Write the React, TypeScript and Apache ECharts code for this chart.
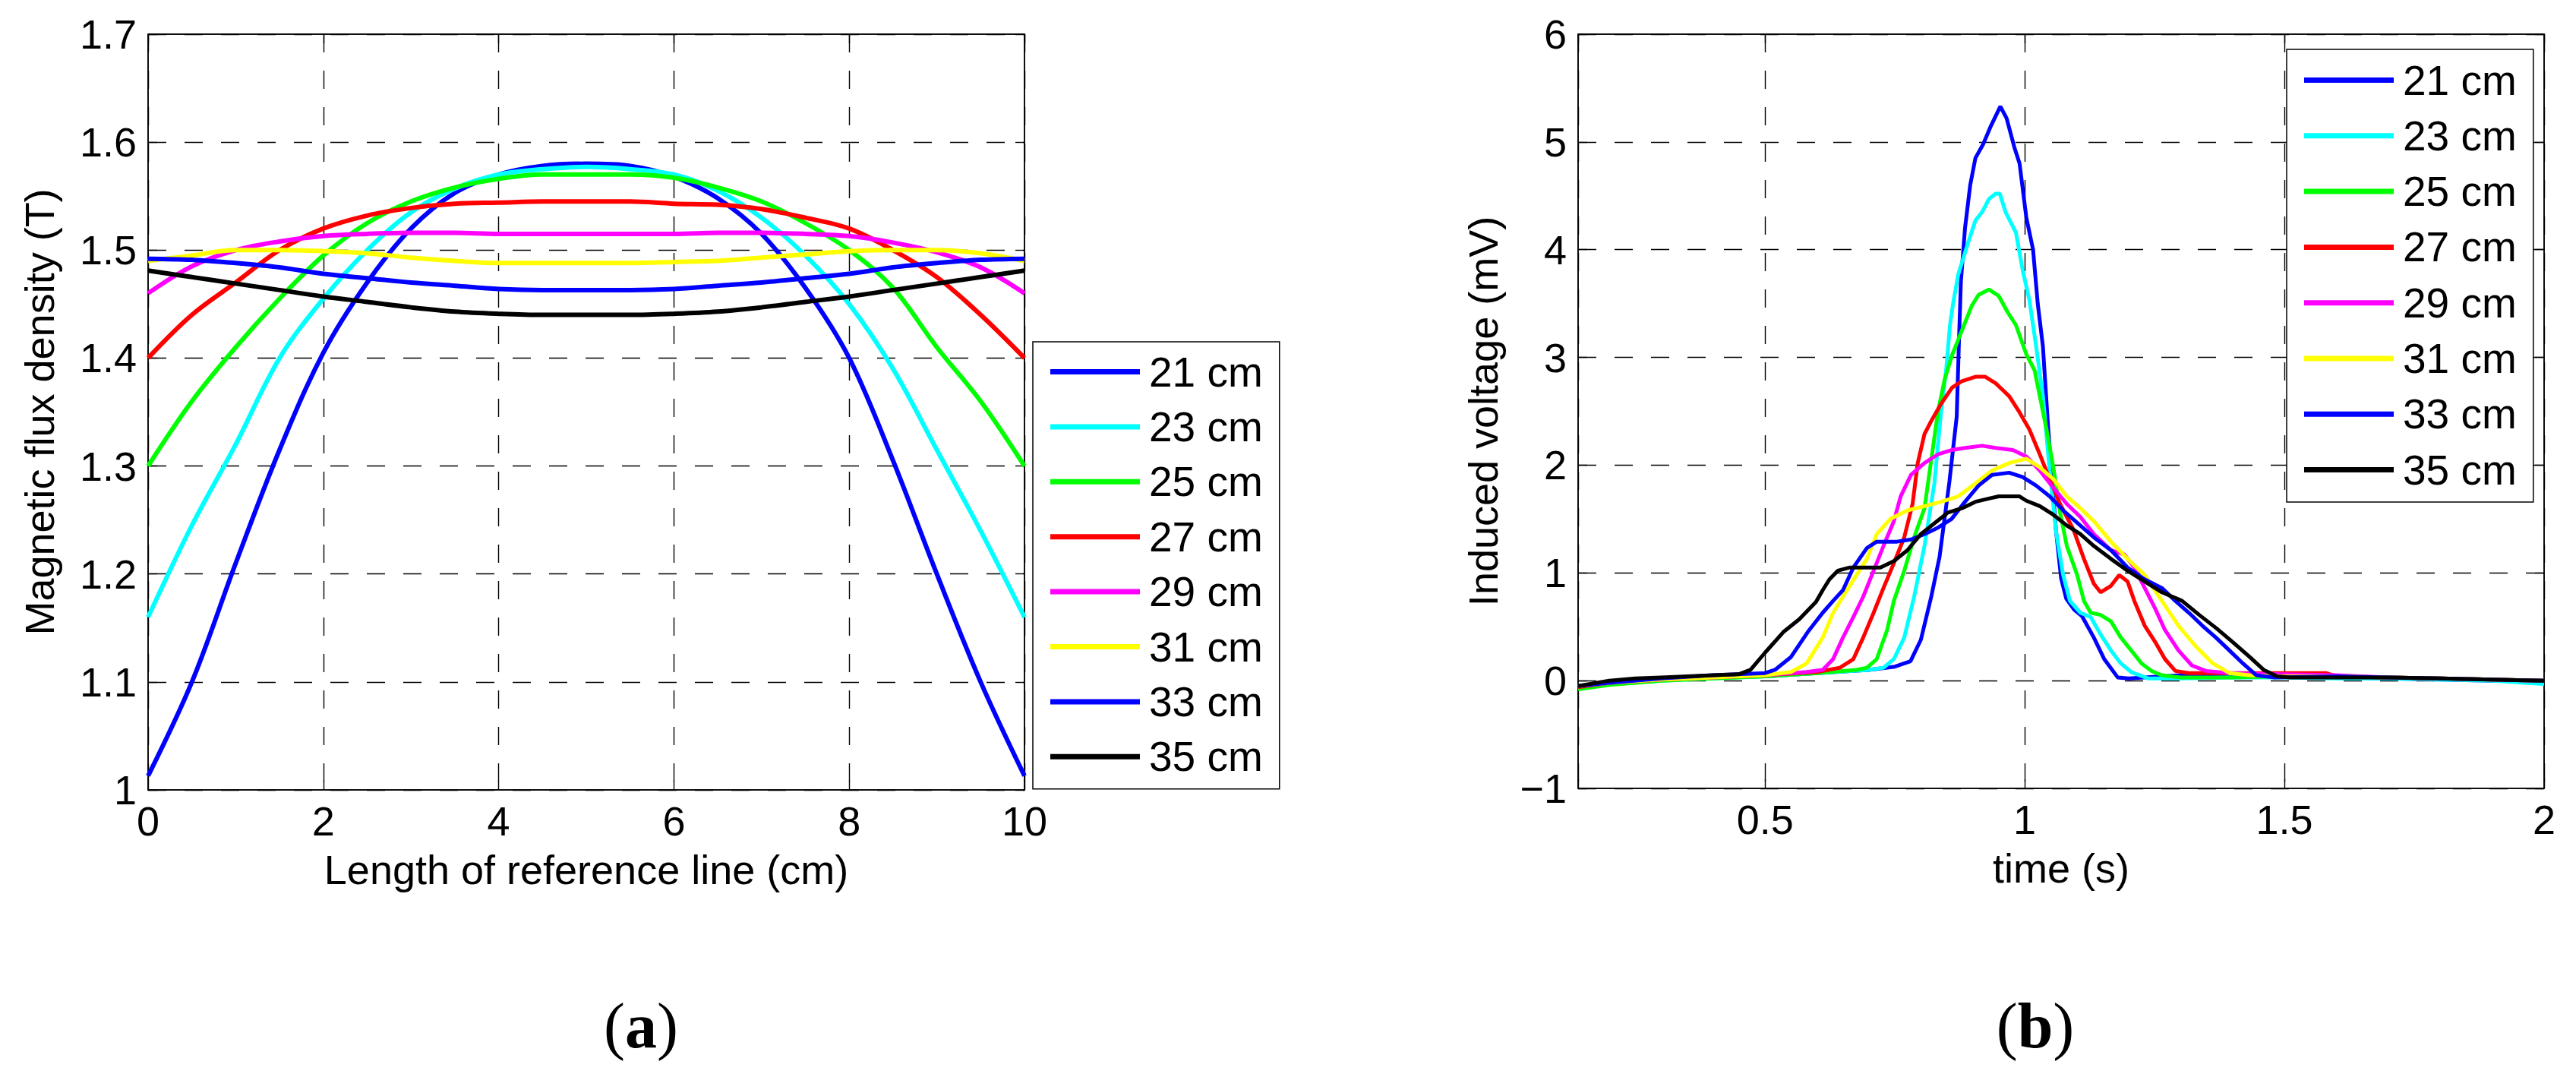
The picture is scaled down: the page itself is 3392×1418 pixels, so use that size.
import React, { useEffect, useRef } from "react";
import * as echarts from "echarts";

const FONT = '"Liberation Sans", Arial, Helvetica, sans-serif';
const SERIF = '"Liberation Serif", "DejaVu Serif", serif';

const seriesNames = ["21 cm", "23 cm", "25 cm", "27 cm", "29 cm", "31 cm", "33 cm", "35 cm"];
const seriesColors = ["#0000ff", "#00ffff", "#00ff00", "#ff0000", "#ff00ff", "#ffff00", "#0000ff", "#000000"];

// (a) Magnetic flux density along the reference line
const fluxX = [0, 0.5, 1, 1.5, 2, 2.5, 3, 3.5, 4, 4.5, 5, 5.5, 6, 6.5, 7, 7.5, 8, 8.5, 9, 9.5, 10];
const flux21 = [1.013, 1.10, 1.21, 1.315, 1.405, 1.47, 1.52, 1.553, 1.57, 1.578, 1.58, 1.578, 1.568, 1.548, 1.515, 1.465, 1.40, 1.305, 1.20, 1.10, 1.013];
const flux23 = [1.16, 1.245, 1.32, 1.40, 1.455, 1.50, 1.535, 1.557, 1.57, 1.575, 1.577, 1.575, 1.57, 1.555, 1.53, 1.495, 1.45, 1.39, 1.315, 1.24, 1.16];
const flux25 = [1.30, 1.36, 1.41, 1.455, 1.495, 1.525, 1.545, 1.558, 1.566, 1.57, 1.57, 1.57, 1.567, 1.558, 1.545, 1.525, 1.50, 1.465, 1.41, 1.36, 1.30];
const flux27 = [1.40, 1.44, 1.47, 1.50, 1.52, 1.532, 1.539, 1.543, 1.544, 1.545, 1.545, 1.545, 1.543, 1.542, 1.538, 1.53, 1.52, 1.50, 1.475, 1.44, 1.40];
const flux29 = [1.46, 1.485, 1.50, 1.508, 1.513, 1.515, 1.516, 1.516, 1.515, 1.515, 1.515, 1.515, 1.515, 1.516, 1.516, 1.515, 1.513, 1.507, 1.498, 1.484, 1.46];
const flux31 = [1.49, 1.495, 1.50, 1.50, 1.499, 1.497, 1.493, 1.49, 1.488, 1.488, 1.488, 1.488, 1.489, 1.49, 1.493, 1.496, 1.499, 1.50, 1.50, 1.497, 1.49];
const flux33 = [1.492, 1.491, 1.488, 1.484, 1.478, 1.474, 1.47, 1.467, 1.464, 1.463, 1.463, 1.463, 1.464, 1.467, 1.47, 1.474, 1.478, 1.484, 1.488, 1.491, 1.492];
const flux35 = [1.481, 1.475, 1.469, 1.463, 1.457, 1.452, 1.447, 1.443, 1.441, 1.44, 1.44, 1.44, 1.441, 1.443, 1.447, 1.452, 1.457, 1.463, 1.469, 1.475, 1.481];
const fluxSeries = [flux21, flux23, flux25, flux27, flux29, flux31, flux33, flux35];

// (b) Induced voltage vs time: [time (s), voltage (mV)]
const volt21 = [[0.14,-0.05],[0.2,-0.02],[0.3,0.01],[0.4,0.03],[0.5,0.04],[0.6,0.07],[0.7,0.10],[0.75,0.13],[0.78,0.18],[0.80,0.38],[0.82,0.78],[0.836,1.15],[0.855,1.85],[0.869,2.45],[0.873,3.1],[0.877,3.7],[0.885,4.2],[0.895,4.6],[0.905,4.85],[0.92,4.98],[0.935,5.15],[0.953,5.33],[0.965,5.22],[0.98,4.95],[0.99,4.8],[1.003,4.3],[1.016,4.0],[1.025,3.5],[1.035,3.1],[1.045,2.35],[1.06,1.4],[1.07,0.95],[1.08,0.76],[1.095,0.66],[1.11,0.6],[1.133,0.4],[1.153,0.2],[1.179,0.03],[1.2,0.02],[1.3,0.05],[1.4,0.04],[1.5,0.04],[1.6,0.03],[1.7,0.02],[1.8,0.01],[1.9,0.0],[2.0,0.0]];
const volt23 = [[0.14,-0.06],[0.2,-0.03],[0.3,0.0],[0.4,0.02],[0.5,0.04],[0.6,0.07],[0.7,0.10],[0.728,0.12],[0.748,0.2],[0.768,0.4],[0.787,0.78],[0.807,1.25],[0.826,1.83],[0.839,2.5],[0.849,2.9],[0.856,3.3],[0.862,3.5],[0.872,3.77],[0.879,3.88],[0.892,4.08],[0.905,4.27],[0.918,4.35],[0.931,4.47],[0.944,4.52],[0.952,4.52],[0.963,4.35],[0.983,4.16],[0.996,3.81],[1.009,3.53],[1.022,3.1],[1.035,2.64],[1.048,1.95],[1.061,1.36],[1.074,0.98],[1.087,0.74],[1.107,0.63],[1.127,0.59],[1.146,0.43],[1.166,0.28],[1.185,0.16],[1.205,0.08],[1.238,0.02],[1.3,0.02],[1.4,0.03],[1.5,0.03],[1.6,0.02],[1.7,0.02],[1.8,0.01],[1.9,0.0],[2.0,-0.03]];
const volt25 = [[0.14,-0.08],[0.2,-0.04],[0.3,0.0],[0.4,0.02],[0.5,0.04],[0.6,0.07],[0.676,0.1],[0.696,0.12],[0.715,0.2],[0.735,0.47],[0.748,0.74],[0.768,1.02],[0.787,1.33],[0.807,1.6],[0.82,2.05],[0.833,2.5],[0.846,2.8],[0.86,3.02],[0.879,3.25],[0.898,3.48],[0.911,3.58],[0.931,3.63],[0.95,3.57],[0.967,3.42],[0.983,3.3],[1.003,3.03],[1.019,2.88],[1.029,2.64],[1.042,2.33],[1.055,1.98],[1.068,1.56],[1.081,1.25],[1.101,0.98],[1.114,0.74],[1.127,0.63],[1.146,0.61],[1.166,0.55],[1.185,0.4],[1.205,0.28],[1.225,0.16],[1.244,0.09],[1.264,0.05],[1.3,0.03],[1.4,0.03],[1.5,0.04],[1.6,0.04],[1.7,0.03],[1.8,0.02],[1.9,0.01],[2.0,0.0]];
const volt27 = [[0.14,-0.06],[0.2,-0.02],[0.3,0.01],[0.4,0.03],[0.5,0.05],[0.6,0.08],[0.644,0.12],[0.67,0.2],[0.689,0.4],[0.709,0.63],[0.728,0.86],[0.748,1.09],[0.768,1.33],[0.784,1.64],[0.794,2.02],[0.807,2.29],[0.82,2.41],[0.839,2.57],[0.86,2.72],[0.879,2.78],[0.905,2.82],[0.924,2.82],[0.944,2.76],[0.97,2.64],[0.99,2.49],[1.009,2.33],[1.029,2.1],[1.048,1.87],[1.068,1.64],[1.094,1.4],[1.114,1.13],[1.133,0.9],[1.146,0.82],[1.166,0.88],[1.182,0.98],[1.198,0.92],[1.211,0.74],[1.231,0.51],[1.251,0.36],[1.27,0.2],[1.29,0.09],[1.316,0.07],[1.4,0.07],[1.5,0.07],[1.58,0.07],[1.6,0.04],[1.7,0.03],[1.8,0.02],[1.9,0.01],[2.0,0.0]];
const volt29 = [[0.14,-0.05],[0.2,-0.02],[0.3,0.01],[0.4,0.03],[0.5,0.05],[0.58,0.08],[0.611,0.1],[0.631,0.2],[0.65,0.4],[0.67,0.59],[0.689,0.78],[0.709,1.02],[0.728,1.25],[0.748,1.48],[0.761,1.71],[0.781,1.91],[0.807,2.02],[0.833,2.1],[0.859,2.14],[0.885,2.16],[0.918,2.18],[0.944,2.16],[0.977,2.14],[1.003,2.08],[1.029,1.95],[1.055,1.79],[1.081,1.64],[1.107,1.52],[1.133,1.36],[1.166,1.21],[1.192,1.17],[1.211,1.05],[1.231,0.86],[1.251,0.67],[1.27,0.47],[1.296,0.28],[1.322,0.14],[1.349,0.09],[1.394,0.07],[1.5,0.06],[1.6,0.05],[1.7,0.03],[1.8,0.02],[1.9,0.01],[2.0,0.0]];
const volt31 = [[0.14,-0.05],[0.2,-0.02],[0.3,0.01],[0.4,0.03],[0.5,0.05],[0.55,0.08],[0.58,0.16],[0.611,0.4],[0.631,0.63],[0.65,0.78],[0.676,0.98],[0.696,1.13],[0.715,1.36],[0.741,1.5],[0.774,1.58],[0.807,1.62],[0.839,1.66],[0.872,1.71],[0.905,1.83],[0.937,1.95],[0.97,2.02],[1.003,2.06],[1.029,1.98],[1.055,1.87],[1.081,1.71],[1.107,1.6],[1.133,1.48],[1.166,1.29],[1.198,1.13],[1.231,0.98],[1.264,0.74],[1.296,0.51],[1.329,0.32],[1.362,0.16],[1.394,0.07],[1.433,0.05],[1.5,0.04],[1.6,0.04],[1.7,0.03],[1.8,0.02],[1.9,0.01],[2.0,0.0]];
const volt33 = [[0.14,-0.05],[0.2,-0.02],[0.3,0.02],[0.4,0.05],[0.5,0.07],[0.519,0.1],[0.55,0.22],[0.582,0.45],[0.611,0.63],[0.631,0.74],[0.65,0.84],[0.67,1.05],[0.696,1.23],[0.715,1.29],[0.754,1.29],[0.781,1.31],[0.807,1.36],[0.833,1.42],[0.859,1.5],[0.885,1.66],[0.911,1.81],[0.937,1.91],[0.97,1.93],[0.996,1.89],[1.022,1.81],[1.048,1.71],[1.074,1.58],[1.107,1.44],[1.133,1.33],[1.166,1.21],[1.198,1.05],[1.231,0.94],[1.264,0.86],[1.29,0.74],[1.316,0.63],[1.342,0.51],[1.368,0.4],[1.394,0.28],[1.42,0.16],[1.446,0.05],[1.479,0.03],[1.6,0.04],[1.7,0.03],[1.8,0.02],[1.9,0.01],[2.0,0.0]];
const volt35 = [[0.14,-0.05],[0.2,0.0],[0.25,0.02],[0.3,0.03],[0.4,0.05],[0.45,0.06],[0.472,0.1],[0.5,0.26],[0.535,0.45],[0.566,0.57],[0.598,0.73],[0.611,0.84],[0.624,0.94],[0.64,1.02],[0.663,1.05],[0.722,1.05],[0.748,1.11],[0.774,1.21],[0.8,1.36],[0.826,1.46],[0.852,1.56],[0.879,1.6],[0.905,1.66],[0.931,1.69],[0.95,1.71],[0.99,1.71],[1.003,1.67],[1.029,1.62],[1.055,1.54],[1.081,1.44],[1.107,1.36],[1.133,1.25],[1.166,1.13],[1.198,1.02],[1.231,0.92],[1.264,0.82],[1.303,0.74],[1.336,0.61],[1.368,0.49],[1.4,0.36],[1.433,0.22],[1.46,0.1],[1.486,0.04],[1.512,0.03],[1.6,0.03],[1.7,0.03],[1.8,0.02],[1.9,0.01],[2.0,0.0]];
const voltSeries = [volt21, volt23, volt25, volt27, volt29, volt31, volt33, volt35];

const fluxXRange = [0, 10, 2];
const fluxYRange = [1, 1.7, 0.1];
const voltXRange = [0.14, 2];
const voltYRange = [-1, 6, 1];

const labelText = { fontSize: 54, fontFamily: FONT, color: "#000" };
const axisLineStyle = { color: "#000", width: 1.5 };
const gridLineStyle = { color: "#000", width: 1.4, type: [24, 24] as number[] };
const tickStyle = { show: true, inside: true, length: 12, lineStyle: { color: "#000", width: 1.4 } };

function mainX(gridIndex: number, extra: any) {
  return {
    type: "value",
    gridIndex,
    position: "bottom",
    axisLine: { show: true, onZero: false, lineStyle: axisLineStyle },
    axisTick: tickStyle,
    axisLabel: { ...labelText, margin: 14 },
    splitLine: { show: true, lineStyle: gridLineStyle },
    nameLocation: "middle",
    nameGap: 78,
    nameTextStyle: { fontSize: 54, fontFamily: FONT, color: "#000" },
    ...extra,
  };
}
function mirrorX(gridIndex: number, extra: any) {
  return {
    type: "value",
    gridIndex,
    position: "top",
    axisLine: { show: true, onZero: false, lineStyle: axisLineStyle },
    axisTick: tickStyle,
    axisLabel: { show: false },
    splitLine: { show: false },
    ...extra,
  };
}
function mainY(gridIndex: number, extra: any) {
  return {
    type: "value",
    gridIndex,
    position: "left",
    axisLine: { show: true, onZero: false, lineStyle: axisLineStyle },
    axisTick: tickStyle,
    axisLabel: { ...labelText, margin: 15 },
    splitLine: { show: true, lineStyle: gridLineStyle },
    nameLocation: "middle",
    nameTextStyle: { fontSize: 54, fontFamily: FONT, color: "#000" },
    ...extra,
  };
}
function mirrorY(gridIndex: number, extra: any) {
  return {
    type: "value",
    gridIndex,
    position: "right",
    axisLine: { show: true, onZero: false, lineStyle: axisLineStyle },
    axisTick: tickStyle,
    axisLabel: { show: false },
    splitLine: { show: false },
    ...extra,
  };
}

function legendFor(left: number, top: number, gap: number, pad: number[]) {
  return {
    orient: "vertical",
    left,
    top,
    icon: "rect",
    itemWidth: 118,
    itemHeight: 7,
    itemGap: gap,
    padding: pad,
    backgroundColor: "#fff",
    borderColor: "#000",
    borderWidth: 1.5,
    selectedMode: false,
    textStyle: { fontSize: 55, fontFamily: FONT, color: "#000", padding: [0, 0, 0, 7] },
    data: seriesNames,
  };
}

export default function App() {
  const ref = useRef<HTMLDivElement>(null);
  useEffect(() => {
    if (!ref.current) return;
    const chart = echarts.init(ref.current, undefined, { renderer: "svg" });
    const series: any[] = [];
    fluxSeries.forEach((vals, i) => {
      series.push({
        type: "line",
        name: seriesNames[i],
        xAxisIndex: 0,
        yAxisIndex: 0,
        data: fluxX.map((x, k) => [x, vals[k]]),
        showSymbol: false,
        symbol: "none",
        smooth: 0.35,
        lineStyle: { color: seriesColors[i], width: 6 },
        itemStyle: { color: seriesColors[i] },
        z: 3 + i,
      });
    });
    voltSeries.forEach((vals, i) => {
      series.push({
        type: "line",
        name: seriesNames[i],
        xAxisIndex: 2,
        yAxisIndex: 2,
        data: vals,
        showSymbol: false,
        symbol: "none",
        smooth: false,
        lineStyle: { color: seriesColors[i], width: 5 },
        itemStyle: { color: seriesColors[i] },
        z: 3 + i,
      });
    });
    const option: any = {
      animation: false,
      backgroundColor: "#fff",
      grid: [
        { left: 195, top: 45, width: 1154, height: 995, show: true, borderColor: "#000", borderWidth: 1.5, backgroundColor: "#fff" },
        { left: 2078, top: 45, width: 1272, height: 993, show: true, borderColor: "#000", borderWidth: 1.5, backgroundColor: "#fff" },
      ],
      xAxis: [
        mainX(0, { min: fluxXRange[0], max: fluxXRange[1], interval: fluxXRange[2], name: "Length of reference line (cm)" }),
        mirrorX(0, { min: fluxXRange[0], max: fluxXRange[1], interval: fluxXRange[2] }),
        mainX(1, {
          min: voltXRange[0],
          max: voltXRange[1],
          splitNumber: 4,
          name: "time (s)",
          axisLabel: {
            ...labelText,
            margin: 14,
            formatter: (v: number) => (Math.abs(v * 2 - Math.round(v * 2)) < 1e-6 ? String(Math.round(v * 2) / 2) : ""),
          },
        }),
        mirrorX(1, { min: voltXRange[0], max: voltXRange[1], splitNumber: 4 }),
      ],
      yAxis: [
        mainY(0, {
          min: fluxYRange[0],
          max: fluxYRange[1],
          interval: fluxYRange[2],
          name: "Magnetic flux density (T)",
          nameGap: 116,
          axisLabel: { ...labelText, margin: 15, formatter: (v: number) => String(Math.round(v * 10) / 10) },
        }),
        mirrorY(0, { min: fluxYRange[0], max: fluxYRange[1], interval: fluxYRange[2] }),
        mainY(1, {
          min: voltYRange[0],
          max: voltYRange[1],
          interval: voltYRange[2],
          name: "Induced voltage (mV)",
          nameGap: 98,
          axisLabel: { ...labelText, margin: 15, formatter: (v: number) => (v < 0 ? "\u2212" + Math.abs(v) : String(v)) },
        }),
        mirrorY(1, { min: voltYRange[0], max: voltYRange[1], interval: voltYRange[2] }),
      ],
      legend: [legendFor(1360, 450, 17.4, [12, 22, 15, 23]), legendFor(3011, 65, 18.3, [13, 22, 15, 23])],
      graphic: [
        {
          type: "text",
          x: 844,
          y: 1350,
          style: {
            text: "{p|(}{b|a}{p|)}",
            align: "center",
            verticalAlign: "middle",
            rich: {
              p: { fontSize: 84, fontFamily: SERIF, fill: "#000" },
              b: { fontSize: 84, fontFamily: SERIF, fontWeight: "bold", fill: "#000" },
            },
          },
        },
        {
          type: "text",
          x: 2680,
          y: 1350,
          style: {
            text: "{p|(}{b|b}{p|)}",
            align: "center",
            verticalAlign: "middle",
            rich: {
              p: { fontSize: 84, fontFamily: SERIF, fill: "#000" },
              b: { fontSize: 84, fontFamily: SERIF, fontWeight: "bold", fill: "#000" },
            },
          },
        },
      ],
      series,
    };
    chart.setOption(option);
    return () => chart.dispose();
  }, []);
  return (
    <div
      ref={ref}
      style={{ position: "absolute", left: 0, top: 0, width: 3392, height: 1418, background: "#fff" }}
    />
  );
}
